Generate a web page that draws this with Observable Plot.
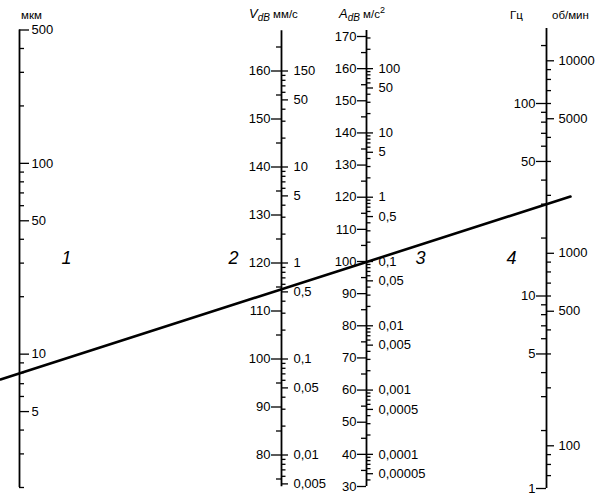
<!DOCTYPE html>
<html><head><meta charset="utf-8">
<script src="https://cdn.jsdelivr.net/npm/d3@7"></script>
<script src="https://cdn.jsdelivr.net/npm/@observablehq/plot@0.6"></script>
<style>
body{margin:0;background:#fff}
#chart{position:relative;width:608px;height:495px;background:#fff}
#chart svg{position:absolute;left:0;top:0;overflow:visible}
</style>
</head><body><div id="chart"></div>
<script>
const W = 608, H = 495;
const FONT = '"Liberation Sans", Arial, Helvetica, sans-serif';

// horizontal placement of the four scales
const axisX = {disp: 19, vel: 281, acc: 366, freq: 546};

// Scale 1: displacement, мкм (log)
const dispExtent = [2, 500];
const dispTicks = [2,3,4,5,6,7,8,9,10,20,30,40,50,60,70,80,90,100,200,300,400,500];
const dispLabelValues = [500, 100, 50, 10, 5];
const dispLabelText = ["500", "100", "50", "10", "5"];

// Scale 2: velocity level V_dB (linear) and mm/s (log)
const velDbExtent = [73.4, 168.4];
const velDbTicks = [75,80,85,90,95,100,105,110,115,120,125,130,135,140,145,150,155,160,165];
const velDbLabels = [80, 90, 100, 110, 120, 130, 140, 150, 160];
const velMmTicks = [0.005,0.006,0.007,0.008,0.009,0.01,0.02,0.03,0.04,0.05,0.06,0.07,0.08,0.09,
  0.1,0.2,0.3,0.4,0.5,0.6,0.7,0.8,0.9,1,2,3,4,5,6,7,8,9,10,20,30,40,50,60,70,80,90,100];
const velMmLabelValues = [100, 50, 10, 5, 1, 0.5, 0.1, 0.05, 0.01, 0.005];
const velMmLabelText = ["150", "50", "10", "5", "1", "0,5", "0,1", "0,05", "0,01", "0,005"];

// Scale 3: acceleration level A_dB (linear) and m/s² (log)
const accDbExtent = [30, 171.9];
const accDbTicks = [30,35,40,45,50,55,60,65,70,75,80,85,90,95,100,105,110,115,120,125,130,135,140,145,150,155,160,165,170];
const accDbLabels = [30,40,50,60,70,80,90,100,110,120,130,140,150,160,170];
const accMsTicks = [0.00004,0.00005,0.00006,0.00007,0.00008,0.00009,
  0.0001,0.0002,0.0003,0.0004,0.0005,0.0006,0.0007,0.0008,0.0009,
  0.001,0.002,0.003,0.004,0.005,0.006,0.007,0.008,0.009,
  0.01,0.02,0.03,0.04,0.05,0.06,0.07,0.08,0.09,
  0.1,0.2,0.3,0.4,0.5,0.6,0.7,0.8,0.9,1,2,3,4,5,6,7,8,9,
  10,20,30,40,50,60,70,80,90,100,200,300];
const accMsLabelValues = [100,50,10,5,1,0.5,0.1,0.05,0.01,0.005,0.001,0.0005,0.0001,0.00005];
const accMsLabelText = ["100","50","10","5","1","0,5","0,1","0,05","0,01","0,005","0,001","0,0005","0,0001","0,00005"];

// Scale 4: frequency, Гц (log) and об/мин
const freqExtent = [1, 245];
const freqTicks = [1,2,3,4,5,6,7,8,9,10,20,30,40,50,60,70,80,90,100,200];
const freqLabelValues = [100, 50, 10, 5, 1];
const freqLabelText = ["100", "50", "10", "5", "1"];
const rpmTicks = [70,80,90,100,200,300,400,500,600,700,800,900,1000,2000,3000,4000,5000,6000,7000,8000,9000,10000];
const rpmLabelValues = [10000, 5000, 1000, 500, 100];
const rpmLabelText = ["10000", "5000", "1000", "500", "100"];

// example reading line (drawn on the A_dB scale), x = page position
const exampleLineX = [0, 570];
const exampleLineAdb = [63.3, 120.2];

// zone numbers
const zoneText = ["1", "2", "3", "4"];
const zoneX = [66, 233, 420, 511];
const zoneAdb = 101;

const velDb = v => 20 * Math.log10(v / 1e-6);   // mm/s -> dB re 1e-6 mm/s
const accDb = a => 20 * Math.log10(a / 1e-6);   // m/s² -> dB re 1e-6 m/s²
const rpmToHz = r => r / 60;

const TICK_W = 1.3, AXIS_W = 1.8;

function tickMarks(values, pos, side, len, yf) {
  return Plot.ruleY(values, {y: yf, x1: () => pos, x2: () => pos + side * len, stroke: "black", strokeWidth: TICK_W});
}
function labelMarks(values, texts, pos, side, off, yf) {
  const data = values.map((v, i) => ({v, t: texts[i]}));
  return Plot.text(data, {x: () => pos + side * off, y: d => yf(d.v), text: "t",
    textAnchor: side > 0 ? "start" : "end", fontSize: 13, fill: "black", fontFamily: FONT});
}
function axisLine(extent, pos) {
  return Plot.ruleX([pos], {y1: () => extent[0], y2: () => extent[1], stroke: "black", strokeWidth: AXIS_W});
}

function layer(y, marks) {
  const svg = Plot.plot({
    width: W, height: H, margin: 0,
    x: {domain: [0, W], range: [0, W], axis: null},
    y: {...y, axis: null},
    style: {background: "transparent", fontFamily: FONT, fontSize: "13px", color: "black", overflow: "visible"},
    marks
  });
  document.getElementById("chart").appendChild(svg);
  return svg;
}

const id = d => d;

// Scale 1
layer({type: "log", domain: [2, 500], range: [487, 29.5]}, [
  axisLine(dispExtent, axisX.disp),
  tickMarks(dispTicks.filter(v => !dispLabelValues.includes(v)), axisX.disp, 1, 5, id),
  tickMarks(dispLabelValues, axisX.disp, 1, 10, id),
  labelMarks(dispLabelValues, dispLabelText, axisX.disp, 1, 12, id)
]);

// Scale 2
layer({type: "linear", domain: [80, 160], range: [454.5, 70.5]}, [
  axisLine(velDbExtent, axisX.vel),
  tickMarks(velDbTicks.filter(v => !velDbLabels.includes(v)), axisX.vel, -1, 5, id),
  tickMarks(velDbLabels, axisX.vel, -1, 10, id),
  labelMarks(velDbLabels, velDbLabels.map(String), axisX.vel, -1, 11, id),
  tickMarks(velMmTicks.filter(v => !velMmLabelValues.includes(v)), axisX.vel, 1, 4.5, velDb),
  tickMarks(velMmLabelValues, axisX.vel, 1, 7, velDb),
  labelMarks(velMmLabelValues, velMmLabelText, axisX.vel, 1, 12, velDb)
]);

// Scale 3 + example line + zone numbers
const accSvg = layer({type: "linear", domain: [30, 170], range: [486, 36]}, [
  axisLine(accDbExtent, axisX.acc),
  tickMarks(accDbTicks.filter(v => !accDbLabels.includes(v)), axisX.acc, -1, 5, id),
  tickMarks(accDbLabels, axisX.acc, -1, 9, id),
  labelMarks(accDbLabels, accDbLabels.map(String), axisX.acc, -1, 10, id),
  tickMarks(accMsTicks.filter(v => !accMsLabelValues.includes(v)), axisX.acc, 1, 4.5, accDb),
  tickMarks(accMsLabelValues, axisX.acc, 1, 7, accDb),
  labelMarks(accMsLabelValues, accMsLabelText, axisX.acc, 1, 12, accDb),
  Plot.line(exampleLineX.map((x, i) => ({x, a: exampleLineAdb[i]})), {x: "x", y: "a", stroke: "black", strokeWidth: 2.6}),
  Plot.text(zoneText.map((t, i) => ({t, x: zoneX[i]})), {x: "x", y: () => zoneAdb, text: "t", fontSize: 18, fontStyle: "italic", fill: "black", fontFamily: FONT})
]);

// Scale 4
const freqSvg = layer({type: "log", domain: [1, 100], range: [488, 103]}, [
  axisLine(freqExtent, axisX.freq),
  tickMarks(freqTicks.filter(v => !freqLabelValues.includes(v)), axisX.freq, -1, 5, id),
  tickMarks(freqLabelValues, axisX.freq, -1, 10, id),
  labelMarks(freqLabelValues, freqLabelText, axisX.freq, -1, 11, id),
  tickMarks(rpmTicks.filter(v => !rpmLabelValues.includes(v)), axisX.freq, 1, 5, rpmToHz),
  tickMarks(rpmLabelValues, axisX.freq, 1, 8, rpmToHz),
  labelMarks(rpmLabelValues, rpmLabelText, axisX.freq, 1, 12, rpmToHz)
]);

// headers (units)
const hs = d3.select(freqSvg);
const hg = hs.append("g").attr("font-family", FONT).attr("fill", "black").attr("text-anchor", "start");
hg.append("text").attr("x", 21).attr("y", 19).attr("font-size", 11.5).text("мкм");
const tv = hg.append("text").attr("x", 249).attr("y", 18);
tv.append("tspan").attr("font-size", 13).attr("font-style", "italic").text("V");
tv.append("tspan").attr("font-size", 10).attr("font-style", "italic").attr("dy", 3).text("dB");
tv.append("tspan").attr("font-size", 11.5).attr("dy", -3).text(" мм/с");
const ta = hg.append("text").attr("x", 339).attr("y", 18);
ta.append("tspan").attr("font-size", 13).attr("font-style", "italic").text("A");
ta.append("tspan").attr("font-size", 10).attr("font-style", "italic").attr("dy", 3).text("dB");
ta.append("tspan").attr("font-size", 11.5).attr("dy", -3).text(" м/с");
ta.append("tspan").attr("font-size", 9).attr("dy", -5).text("2");
hg.append("text").attr("x", 510).attr("y", 19).attr("font-size", 11.5).text("Гц");
hg.append("text").attr("x", 552).attr("y", 19).attr("font-size", 11.5).text("об/мин");
</script>
</body></html>
